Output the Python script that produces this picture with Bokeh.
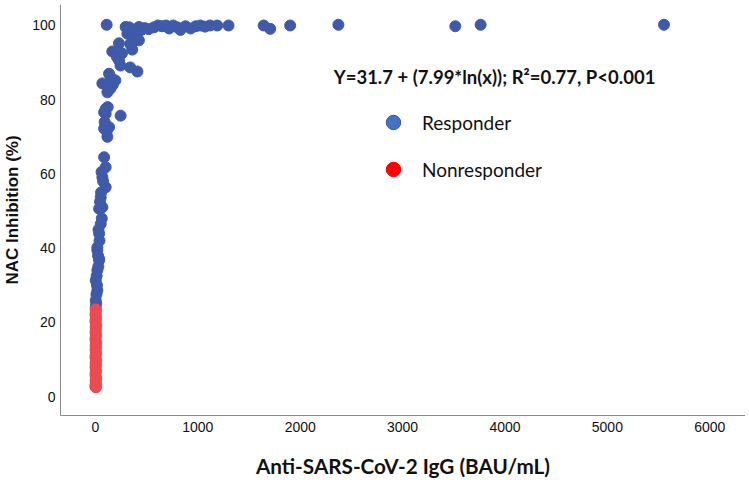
import numpy as np
from bokeh.plotting import figure
from bokeh.models import Range1d, FixedTicker, Legend, LegendItem, Label
from bokeh.embed import file_html
from bokeh.resources import INLINE

# Responder data (x: Anti-SARS-CoV-2 IgG BAU/mL, y: NAC inhibition %)
resp_x = [110, 295, 344, 425, 312, 377, 425, 360, 330, 390, 450, 480, 520, 570, 610, 650,
          690, 720, 760, 800, 830, 880, 930, 980, 1025, 1070, 1120, 1190, 1300, 1643, 1707,
          1902, 2373, 3515, 3762, 5553,
          230, 165, 230, 245, 340, 410, 360, 340, 133, 68, 195, 146, 117, 100, 85, 246, 100,
          85, 133, 117, 85, 100, 68, 100, 52, 68, 36, 52, 36, 19, 36, 19, 36, 19, 3, 19, 3, 3,
          60, 75, 55, 45, 62, 30, 40, 25, 28, 12, 15, 10, 8, 90, 110, 120, 150, 210, 260, 170]
resp_y = [100.2, 99.6, 99.1, 99.6, 97.8, 97.3, 96.0, 95.5, 99.5, 98.5, 98.8, 99.3, 99.0, 99.5,
          100.0, 99.8, 100.0, 99.2, 100.0, 99.5, 98.8, 99.8, 99.2, 99.8, 100.0, 99.7, 100.0,
          100.0, 100.0, 100.0, 99.1, 100.0, 100.2, 99.8, 100.2, 100.2,
          95.2, 93.0, 90.6, 89.2, 88.7, 87.6, 93.5, 95.0, 87.0, 84.4, 85.2, 83.0, 82.0, 77.5,
          76.6, 75.7, 76.2, 72.2, 72.6, 70.0, 64.5, 61.8, 59.1, 56.4, 53.7, 51.0, 50.6, 46.5,
          43.9, 40.2, 37.1, 39.4, 36.7, 34.0, 31.3, 28.6, 25.9, 24.1,
          60.5, 58.0, 55.0, 52.5, 48.0, 45.0, 42.0, 38.0, 35.0, 32.5, 30.0, 27.5, 25.0, 74.0,
          71.5, 78.0, 86.0, 91.5, 92.5, 84.0]

# Nonresponder data
nonresp_x = [2, 5, 1, 4, 6, 0, 3, 7, 2, 5, 1, 4, 6, 0, 3, 7, 2, 5, 1, 4, 6, 0, 3, 7, 2, 5,
             1, 4, 6, 0, 3, 7, 2, 5, 1, 4, 6, 0]
nonresp_y = [23.5, 22.9, 22.2, 21.7, 21.0, 20.4, 19.9, 19.2, 18.7, 18.1, 17.4, 16.9, 16.3,
             15.6, 15.0, 14.5, 13.8, 13.2, 12.7, 12.0, 11.5, 10.8, 10.3, 9.7, 9.0, 8.5, 7.9,
             7.2, 6.7, 6.1, 5.4, 4.9, 4.3, 3.7, 3.2, 2.8, 2.5, 2.6]

x_ticks = [0, 1000, 2000, 3000, 4000, 5000, 6000]
y_ticks = [0, 20, 40, 60, 80, 100]

equation = "Y=31.7 + (7.99*ln(x)); R\u00b2=0.77, P<0.001"

p = figure(width=745, height=482, output_backend="svg", toolbar_location=None,
           x_range=Range1d(-341, 6349), y_range=Range1d(-5.12, 105.66),
           min_border_left=58, min_border_right=0, min_border_top=4, min_border_bottom=67)
p.outline_line_color = None
p.xgrid.grid_line_color = None
p.ygrid.grid_line_color = None

for ax in (p.xaxis[0], p.yaxis[0]):
    ax.axis_line_color = "#8a8a8a"
    ax.major_tick_line_color = None
    ax.minor_tick_line_color = None
    ax.major_tick_out = 0
    ax.major_tick_in = 0
    ax.minor_tick_out = 0
    ax.major_label_text_font = "Liberation Sans"
    ax.major_label_text_font_size = "14px"
    ax.major_label_text_color = "#111111"

p.xaxis.ticker = FixedTicker(ticks=x_ticks)
p.yaxis.ticker = FixedTicker(ticks=y_ticks)
p.xaxis.major_label_standoff = 6
p.yaxis.major_label_standoff = 5

p.xaxis.axis_label = "Anti-SARS-CoV-2 IgG (BAU/mL)"
p.xaxis.axis_label_text_font = "Lato"
p.xaxis.axis_label_text_font_style = "bold"
p.xaxis.axis_label_text_font_size = "20.7px"
p.xaxis.axis_label_text_color = "#111111"
p.xaxis.axis_label_standoff = 19

p.yaxis.axis_label = "NAC Inhibition (%)"
p.yaxis.axis_label_text_font = "Liberation Sans"
p.yaxis.axis_label_text_font_style = "bold"
p.yaxis.axis_label_text_font_size = "17px"
p.yaxis.axis_label_text_color = "#111111"
p.yaxis.axis_label_standoff = 7

p.scatter(resp_x, resp_y, size=11, fill_color="#3F5AA9", line_color="#3F5AA9")
p.scatter(nonresp_x, nonresp_y, size=11, fill_color="#EC4B50", line_color="#EC4B50")

# legend swatches (renderers with no visible data, used only for the legend glyphs)
r_leg1 = p.scatter(np.array([np.nan]), np.array([np.nan]), fill_color="#4472C4",
                   line_color="#2F5597", line_width=1)
r_leg2 = p.scatter(np.array([np.nan]), np.array([np.nan]), fill_color="#FF0000",
                   line_color="#FF0000")
legend = Legend(items=[LegendItem(label="Responder", renderers=[r_leg1]),
                       LegendItem(label="Nonresponder", renderers=[r_leg2])],
                location=(315, 228), glyph_width=36, glyph_height=36, spacing=11,
                label_standoff=11, padding=0, margin=0,
                border_line_alpha=0, background_fill_alpha=0,
                label_text_font="Lato", label_text_font_size="19px",
                label_text_color="#111111")
p.add_layout(legend)

eq = Label(x=2327, y=86.0, text=equation, text_font="Lato", text_font_style="bold",
           text_font_size="18.5px", text_baseline="middle", text_color="#111111")
p.add_layout(eq)

open("out.html", "w").write(file_html(p, INLINE))
